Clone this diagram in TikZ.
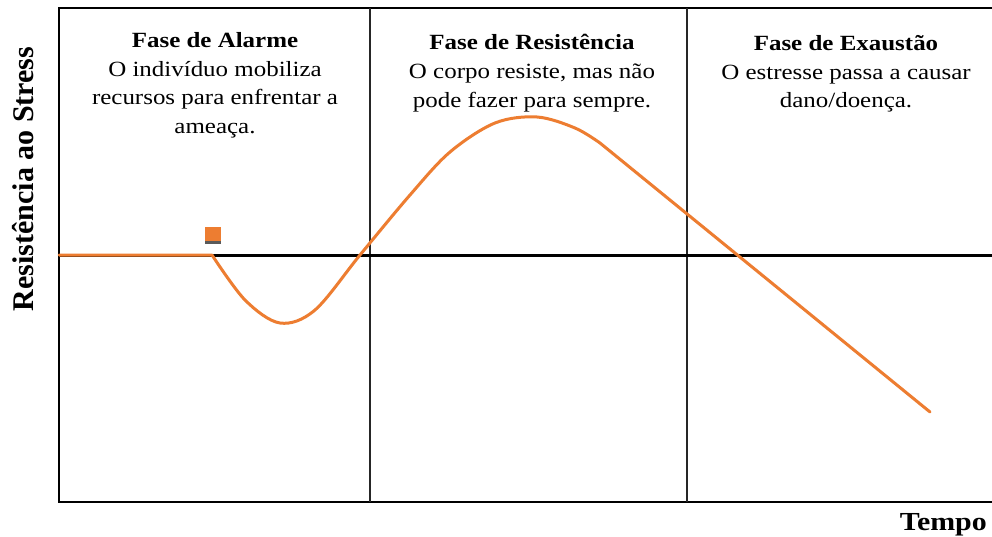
\documentclass[tikz,border=0pt]{standalone}
\usepackage{fontspec}
\setmainfont{Liberation Serif}
\definecolor{curveorange}{RGB}{237,125,49}
\definecolor{shadowgray}{RGB}{90,90,90}
\begin{document}
\begin{tikzpicture}[x=1pt,y=-1pt,
  frame/.style={line width=2pt,black},
  divider/.style={line width=2pt,black!85},
  baseaxis/.style={line width=3pt,black},
  curve/.style={line width=3pt,curveorange,line cap=round,line join=round},
  phasetext/.style={align=center,inner sep=0pt,anchor=north,xscale=1.15,
    font=\fontsize{21.7pt}{28.8pt}\selectfont},
  axislabel/.style={inner sep=0pt,font=\fontsize{30pt}{32pt}\selectfont\bfseries},
]
\useasboundingbox (0,0) rectangle (992,537);
\fill[white] (0,0) rectangle (992,537);
% frame
\coordinate (tr) at (992,8);
\coordinate (tl) at (59,8);
\coordinate (bl) at (59,502);
\coordinate (br) at (992,502);
\draw[frame] (tr) -- (tl) -- (bl) -- (br);
% dividers
\coordinate (d1t) at (370,8);
\coordinate (d1b) at (370,502);
\coordinate (d2t) at (687,8);
\coordinate (d2b) at (687,502);
\draw[divider] (d1t) -- (d1b);
\draw[divider] (d2t) -- (d2b);
% base axis
\coordinate (al) at (59,255);
\coordinate (ar) at (992,255);
\draw[baseaxis] (al) -- (ar);
% curve
\coordinate (c0) at (59,255);
\coordinate (c1) at (212,255);
\coordinate (cend) at (930,412);
\draw[curve] (c0) -- (c1) plot[smooth,tension=0.55] coordinates {(212,255) (245,300) (280,323) (315,310) (360,255) (410,195) (450,152) (495,123) (537,117) (575,128) (600,143)} -- (cend);
% marker
\fill[shadowgray] (205,240) rectangle (221,244);
\fill[curveorange] (205,227) rectangle (221,241);
% phase texts
\node[phasetext] (alarme) at (215,32) {\textbf{Fase de Alarme}\\O indivíduo mobiliza\\recursos para enfrentar a\\ameaça.};
\node[phasetext] (resist) at (532,34) {\textbf{Fase de Resistência}\\O corpo resiste, mas não\\pode fazer para sempre.};
\node[phasetext] (exaust) at (846,35) {\textbf{Fase de Exaustão}\\O estresse passa a causar\\dano/doença.};
% axis labels
\node[axislabel,rotate=90,anchor=base] (ylab) at (33,179) {Resistência ao Stress};
\node[axislabel,xscale=1.15,anchor=base east,font=\fontsize{26pt}{28pt}\selectfont\bfseries] (xlab) at (987,530) {Tempo};
\end{tikzpicture}
\end{document}
